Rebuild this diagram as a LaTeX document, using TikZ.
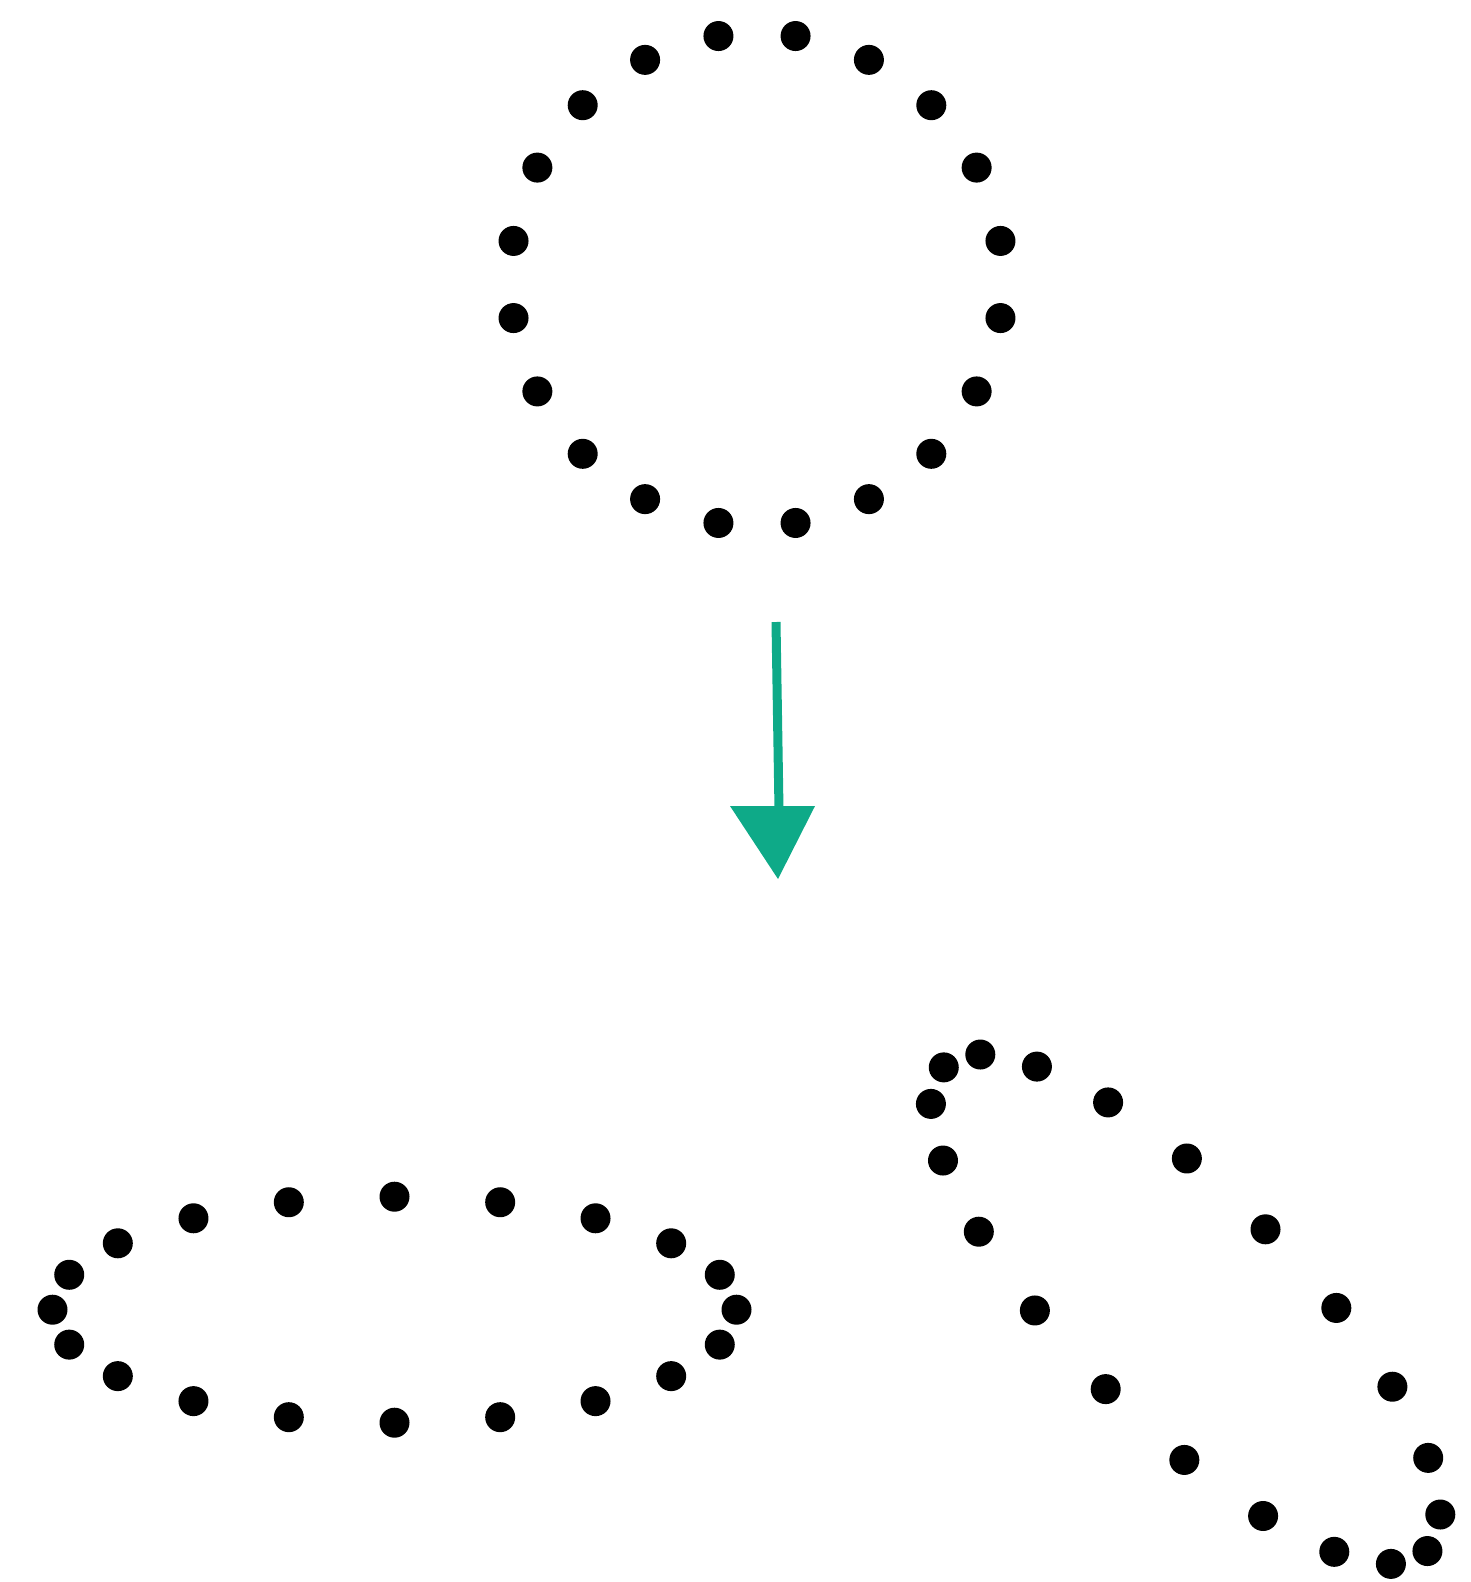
\documentclass[tikz,border=0pt]{standalone}
\usetikzlibrary{calc}
\definecolor{arrowgreen}{RGB}{14,170,136}
\tikzset{
  dot/.style={circle,fill=black,inner sep=0pt,minimum size=30pt},
  shaftline/.style={draw=arrowgreen,line width=9pt},
  headfill/.style={fill=arrowgreen}
}
\begin{document}
\begin{tikzpicture}[x=1pt,y=-1pt]
\useasboundingbox (0,0) rectangle (1471,1582);
% top circle of 20 dots
\foreach \k in {0,...,19}{
  \pgfmathsetmacro{\ang}{9+18*\k}
  \node[dot] (c\k) at ({757+246.5*sin(\ang)},{279.5-246.5*cos(\ang)}) {};
}
% arrow
\coordinate (as) at (776,622);
\coordinate (ae) at (779,810);
\coordinate (hl) at (730,806);
\coordinate (hr) at (815,806);
\coordinate (tip) at (778,879);
\draw[shaftline] (as) -- (ae);
\fill[headfill] (hl) -- (hr) -- (tip) -- cycle;
% bottom-left ellipse
\foreach \k in {0,...,19}{
  \pgfmathsetmacro{\t}{18*\k}
  \node[dot] (e\k) at ({394.5+342*cos(\t)},{1309.7+113*sin(\t)}) {};
}
% bottom-right rotated ellipse
\foreach \k in {0,...,19}{
  \pgfmathsetmacro{\t}{18*\k}
  \node[dot] (r\k) at ({1185.6+0.7071*(342*cos(\t)+113*sin(\t))},{1309.2+0.7071*(342*cos(\t)-113*sin(\t))}) {};
}
\end{tikzpicture}
\end{document}
